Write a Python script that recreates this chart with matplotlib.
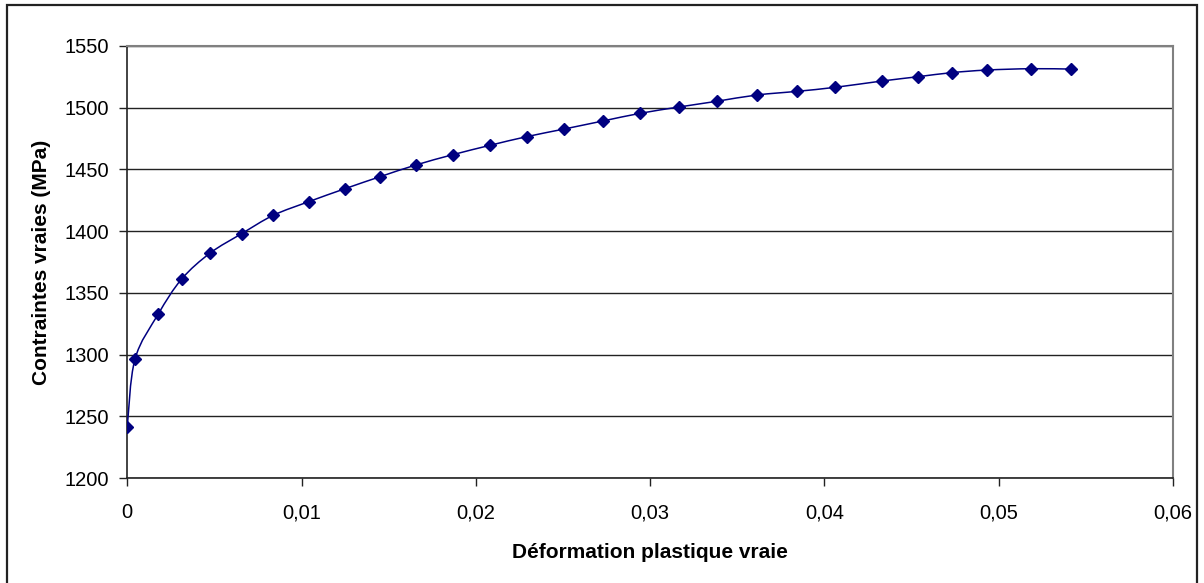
import numpy as np
import matplotlib
matplotlib.use("Agg")
import matplotlib.pyplot as plt
from matplotlib.path import Path
from matplotlib.patches import PathPatch, Rectangle
from matplotlib.ticker import FuncFormatter, MultipleLocator

plt.rcParams['font.family'] = ['Liberation Sans', 'DejaVu Sans']

# data
deformation = [0.0, 0.00044, 0.00178, 0.00312, 0.00476, 0.00656, 0.00838, 0.01041,
               0.01249, 0.0145, 0.01656, 0.01867, 0.02081, 0.02291, 0.02507, 0.02729,
               0.02943, 0.03165, 0.03381, 0.03611, 0.03844, 0.0406, 0.04328, 0.04536,
               0.0473, 0.0493, 0.05183, 0.05412]
contrainte = [1241.7, 1296.3, 1332.9, 1361.2, 1382.3, 1397.9, 1412.8, 1423.8,
              1434.3, 1444.0, 1453.5, 1461.8, 1469.4, 1476.4, 1482.6, 1489.1,
              1495.3, 1500.4, 1505.0, 1510.1, 1513.1, 1516.3, 1521.4, 1524.9,
              1528.2, 1530.3, 1531.4, 1531.1]

navy = '#000080'

fig = plt.figure(figsize=(12.04, 5.83), dpi=100)
ax = fig.add_axes([0.1057, 0.1796, 0.9743 - 0.1057, 0.9216 - 0.1796])

# smoothed line (excel style bezier) through the points
pts = np.column_stack([deformation, contrainte])
verts = [pts[0]]
codes = [Path.MOVETO]
n = len(pts)
for i in range(n - 1):
    p0 = pts[max(i - 1, 0)]
    p1 = pts[i]
    p2 = pts[i + 1]
    p3 = pts[min(i + 2, n - 1)]
    c1 = p1 + (p2 - p0) / 6.0
    c2 = p2 - (p3 - p1) / 6.0
    verts += [c1, c2, p2]
    codes += [Path.CURVE4] * 3
ax.add_patch(PathPatch(Path(verts, codes), facecolor='none', edgecolor=navy, lw=1.1, zorder=3))
ax.plot(deformation, contrainte, linestyle='none', marker='D', markersize=6.5,
        color=navy, zorder=4)

ax.set_xlim(0, 0.06)
ax.set_ylim(1200, 1550)
ax.xaxis.set_major_locator(MultipleLocator(0.01))
ax.yaxis.set_major_locator(MultipleLocator(50))
ax.xaxis.set_major_formatter(FuncFormatter(lambda v, p: ('%g' % round(v, 4)).replace('.', ',')))
ax.yaxis.set_major_formatter(FuncFormatter(lambda v, p: '%d' % v))

ax.grid(axis='y', color='#222222', lw=1)
ax.set_axisbelow(True)
for s in ['top', 'right']:
    ax.spines[s].set_color('#808080')
    ax.spines[s].set_linewidth(1.5)
for s in ['left', 'bottom']:
    ax.spines[s].set_color('#222222')
    ax.spines[s].set_linewidth(1.2)

ax.tick_params(axis='both', direction='out', length=6, width=1, color='#222222',
               labelsize=14.5)
ax.tick_params(axis='y', pad=7)
ax.tick_params(axis='x', pad=12)

ax.set_xlabel('Déformation plastique vraie', fontsize=15, fontweight='bold', labelpad=15)
ax.set_ylabel('Contraintes vraies (MPa)', fontsize=15, fontweight='bold', labelpad=10)

# outer chart border
fig.patches.append(Rectangle((6.5 / 1204, -0.01), (1196.5 - 6.5) / 1204, 1 - 5 / 583 + 0.01,
                             transform=fig.transFigure, fill=False, edgecolor='#222222',
                             lw=1.6))

fig.savefig('out.png', dpi=100)
